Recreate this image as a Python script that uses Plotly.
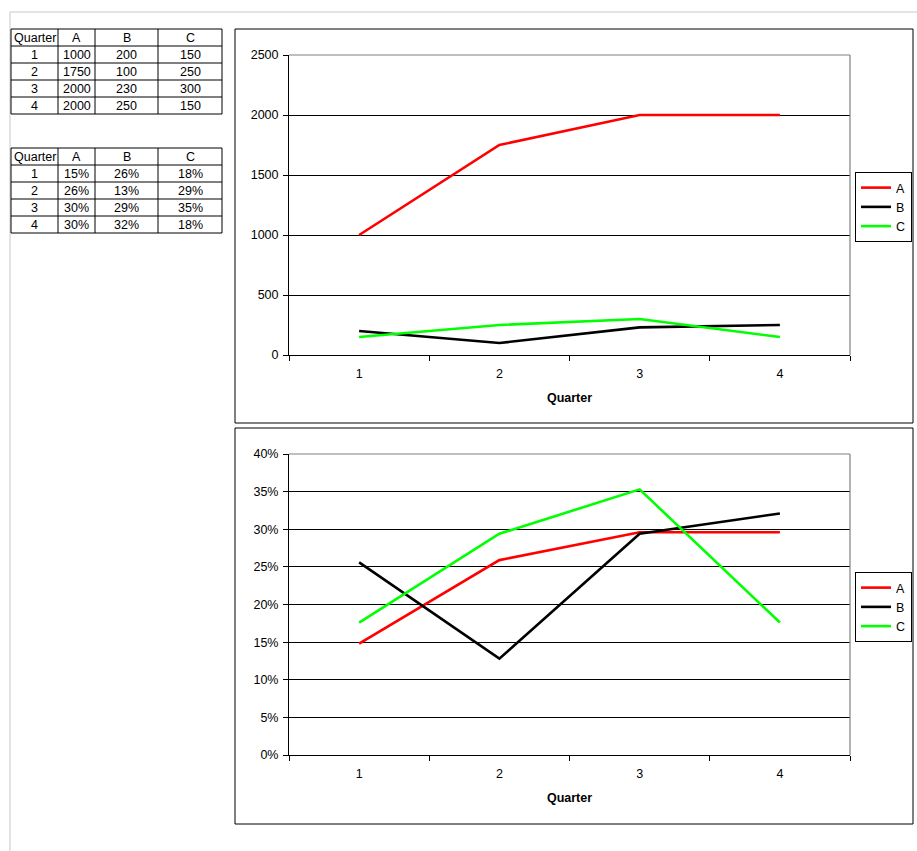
import plotly.graph_objects as go

# ---------------- data ----------------
quarters = ["1", "2", "3", "4"]
series_names = ["A", "B", "C"]
values_A = [1000, 1750, 2000, 2000]
values_B = [200, 100, 230, 250]
values_C = [150, 250, 300, 150]
share_A = [0.148, 0.259, 0.296, 0.296]
share_B = [0.256, 0.128, 0.294, 0.321]
share_C = [0.176, 0.294, 0.353, 0.176]
header = ["Quarter", "A", "B", "C"]
colors = {"A": "#ff0000", "B": "#000000", "C": "#00ff00"}

W, H = 917, 851
FONT = "Liberation Sans, Arial, sans-serif"


def px(x):
    return x / W


def py(y):
    return 1 - y / H


fig = go.Figure()

# ---------------- charts ----------------
abs_vals = {"A": values_A, "B": values_B, "C": values_C}
pct_vals = {"A": share_A, "B": share_B, "C": share_C}
for name in series_names:
    fig.add_trace(go.Scatter(x=quarters, y=abs_vals[name], name=name, mode="lines",
                             line=dict(color=colors[name], width=2.6),
                             xaxis="x", yaxis="y", legend="legend"))
for name in series_names:
    fig.add_trace(go.Scatter(x=quarters, y=pct_vals[name], name=name, mode="lines",
                             line=dict(color=colors[name], width=2.6),
                             xaxis="x2", yaxis="y2", legend="legend2"))

axis_font = dict(family=FONT, size=12.5, color="black")
xcommon = dict(type="category", tickson="boundaries", ticks="outside", ticklen=5,
               tickcolor="black", showline=True, linecolor="black", linewidth=1,
               showgrid=False, zeroline=False, tickfont=axis_font,
               range=[-0.5, 3.5], fixedrange=True, automargin=False,
               ticklabelstandoff=7,
               title=dict(text="<b>Quarter</b>", font=axis_font, standoff=13))
ycommon = dict(ticks="outside", ticklen=5, tickcolor="black", showline=True,
               linecolor="black", linewidth=1, showgrid=True, gridcolor="black",
               gridwidth=1, zeroline=False, tickfont=axis_font, automargin=False,
               ticklabelstandoff=2)

top_dom = [py(355), py(55)]
bot_dom = [py(755), py(454)]
xdom = [px(289), px(850)]

legend_common = dict(xanchor="left", yanchor="top", bordercolor="black", borderwidth=1,
                     bgcolor="white", itemwidth=30, font=dict(family=FONT, size=12.5),
                     tracegroupgap=0)

fig.update_layout(
    width=W, height=H, autosize=False,
    margin=dict(l=0, r=0, t=0, b=0, autoexpand=False),
    paper_bgcolor="white", plot_bgcolor="white",
    font=dict(family=FONT, size=12, color="black"),
    xaxis=dict(domain=xdom, anchor="y", **xcommon),
    yaxis=dict(domain=top_dom, anchor="x", range=[0, 2500], dtick=500, **ycommon),
    xaxis2=dict(domain=xdom, anchor="y2", **xcommon),
    yaxis2=dict(domain=bot_dom, anchor="x2", range=[0, 0.40], dtick=0.05,
                tickformat=".0%", **ycommon),
    legend=dict(x=px(855), y=py(172), **legend_common),
    legend2=dict(x=px(855), y=py(572), **legend_common),
)

shapes = []
# page lines
shapes.append(dict(type="line", xref="paper", yref="paper", x0=px(10), x1=1,
                   y0=py(12), y1=py(12), line=dict(color="#c8c8c8", width=1)))
shapes.append(dict(type="line", xref="paper", yref="paper", x0=px(10), x1=px(10),
                   y0=py(12), y1=0, line=dict(color="#c8c8c8", width=1)))
# chart frames
for (t, b) in [(29, 423), (428, 824)]:
    shapes.append(dict(type="rect", xref="paper", yref="paper", x0=px(235), x1=px(913),
                       y0=py(b), y1=py(t), line=dict(color="black", width=1),
                       layer="below"))
# plot area gray top/right borders
for (t, b) in [(55, 355), (454, 755)]:
    shapes.append(dict(type="line", xref="paper", yref="paper", x0=px(289), x1=px(850),
                       y0=py(t), y1=py(t), line=dict(color="#808080", width=1.2),
                       layer="above"))
    shapes.append(dict(type="line", xref="paper", yref="paper", x0=px(850), x1=px(850),
                       y0=py(b), y1=py(t), line=dict(color="#808080", width=1.2),
                       layer="above"))

# ---------------- tables ----------------
col_edges = [11, 58, 95, 158, 222]
annotations = []


def draw_table(top, rows):
    row_h = 17
    n = len(rows)
    for i in range(n + 1):
        y = top + i * row_h
        shapes.append(dict(type="line", xref="paper", yref="paper", x0=px(col_edges[0]),
                           x1=px(col_edges[-1]), y0=py(y), y1=py(y),
                           line=dict(color="black", width=1)))
    for xe in col_edges:
        shapes.append(dict(type="line", xref="paper", yref="paper", x0=px(xe), x1=px(xe),
                           y0=py(top), y1=py(top + n * row_h),
                           line=dict(color="black", width=1)))
    for i, row in enumerate(rows):
        for j, cell in enumerate(row):
            annotations.append(dict(
                xref="paper", yref="paper",
                x=px((col_edges[j] + col_edges[j + 1]) / 2),
                y=py(top + i * row_h + row_h / 2 + 0.5),
                text=str(cell), showarrow=False, xanchor="center", yanchor="middle",
                font=dict(family=FONT, size=12.5, color="black")))


rows1 = [header] + [[q, a, b, c] for q, a, b, c in zip(quarters, values_A, values_B, values_C)]
rows2 = [header] + [[q, f"{a:.0%}", f"{b:.0%}", f"{c:.0%}"]
                    for q, a, b, c in zip(quarters, share_A, share_B, share_C)]
draw_table(29, rows1)
draw_table(148, rows2)

fig.update_layout(shapes=shapes, annotations=annotations)
fig.write_html("out.html")
